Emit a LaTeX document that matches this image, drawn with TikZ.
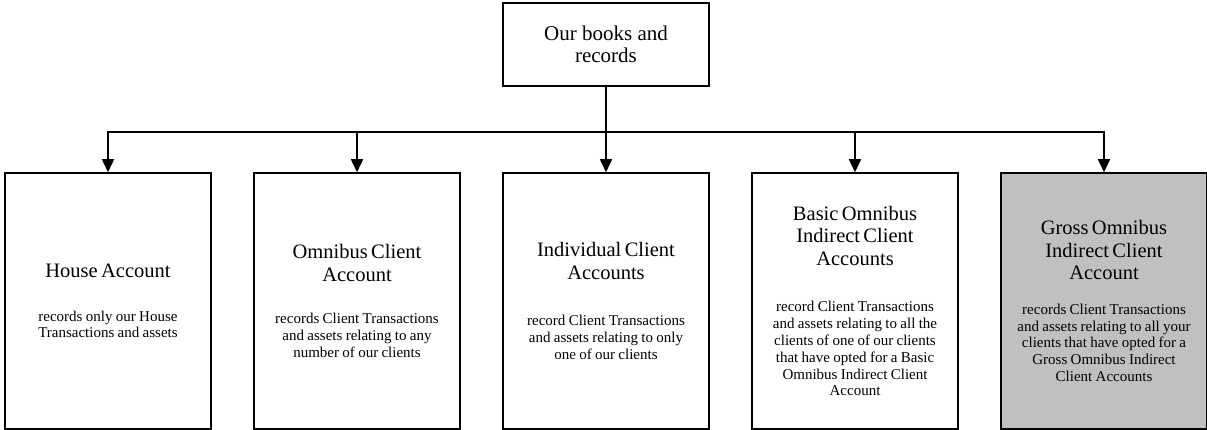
\documentclass[tikz,border=0pt]{standalone}
\usepackage{fontspec}
\setmainfont{Liberation Serif}
\usetikzlibrary{positioning,arrows.meta}

\definecolor{shadegray}{RGB}{192,192,192}
\newcommand{\acctitle}{\fontsize{20.5}{22.5}\selectfont}
\newcommand{\acctext}{\fontsize{15}{16.8}\selectfont}

\tikzset{
  acct/.style={draw, line width=1.5pt, text width=198pt, inner sep=4pt,
    minimum width=206pt, minimum height=256pt, align=center},
  head/.style={draw, line width=1.5pt, minimum width=206pt, minimum height=83pt,
    align=center, font=\fontsize{21}{22}\selectfont},
  feed/.style={line width=1.5pt, -{Triangle[width=12pt,length=13pt]}}
}

\begin{document}
\begin{tikzpicture}[x=1pt,y=1pt]
      \useasboundingbox (0,0) rectangle (1207,-430);
      \node[head] (books) at (606,-44.5) {Our books and\\records};
      % the five accounts
      \node[acct] (house) at (108,-301)
        {{\acctitle House Account\par}\vspace{27pt}
         {\acctext records only our House\\Transactions and assets\par}};
      \node[acct, right=41.5pt of house] (omnibus)
        {{\acctitle Omnibus Client\\Account\par}\vspace{26pt}
         {\acctext records Client Transactions\\and assets relating to any\\number of our clients\par}};
      \node[acct, right=41.5pt of omnibus] (individual)
        {{\acctitle Individual Client\\Accounts\par}\vspace{30pt}
         {\acctext record Client Transactions\\and assets relating to only\\one of our clients\par}};
      \node[acct, right=41.5pt of individual] (basic)
        {{\acctitle Basic Omnibus\\Indirect Client\\Accounts\par}\vspace{30pt}
         {\acctext record Client Transactions\\and assets relating to all the\\clients of one of our clients\\that have opted for a Basic\\Omnibus Indirect Client\\Account\par}};
      \node[acct, fill=shadegray, right=41.5pt of basic] (gross)
        {{\acctitle Gross Omnibus\\Indirect Client\\Account\par}\vspace{18pt}
         {\acctext records Client Transactions\\and assets relating to all your\\clients that have opted for a\\Gross Omnibus Indirect\\Client Accounts\par}};
      % connectors
      \coordinate (bus) at (606,-132);
      \draw[line width=1.5pt] (books.south) -- (bus);
      \foreach \b in {house,omnibus,individual,basic,gross}
      \draw[feed] (bus) -| (\b.north);
    \end{tikzpicture}
\end{document}
